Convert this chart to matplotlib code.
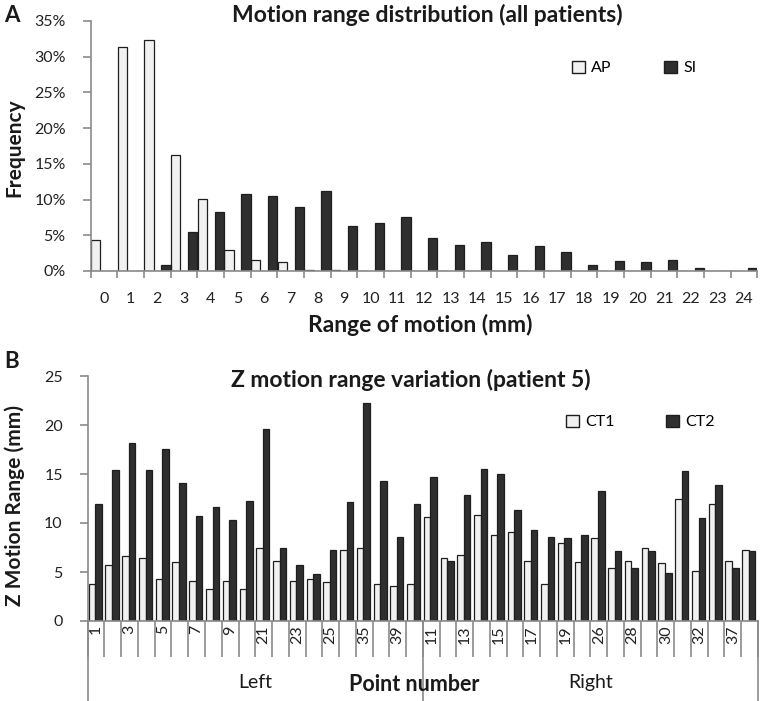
import numpy as np
import matplotlib
matplotlib.use('Agg')
import matplotlib.pyplot as plt
from matplotlib.patches import Patch

plt.rcParams['font.family'] = ['Lato', 'DejaVu Sans']

# panel A: motion range histogram (% of all patients)
motion_mm = list(range(25))
ap_pct = [4.3, 31.4, 32.4, 16.3, 10.1, 3.0, 1.5, 1.3, 0.2, 0.2, 0, 0, 0,
          0, 0, 0, 0, 0, 0, 0, 0, 0, 0, 0, 0]
si_pct = [0, 0, 0.9, 5.4, 8.2, 10.8, 10.5, 8.9, 11.2, 6.3, 6.7, 7.6, 4.6,
          3.7, 4.0, 2.2, 3.5, 2.7, 0.9, 1.4, 1.2, 1.6, 0.4, 0, 0.4]

# panel B: Z motion range per point, patient 5 (only every other label is printed)
left_labels = ['1', '', '3', '', '5', '', '7', '', '9', '', '21', '', '23', '',
               '25', '', '35', '', '39', '']
right_labels = ['11', '', '13', '', '15', '', '17', '', '19', '', '26', '', '28', '',
                '30', '', '32', '', '37', '']
ct1 = [3.8, 5.7, 6.6, 6.4, 4.3, 6.0, 4.1, 3.3, 4.1, 3.3,
       7.5, 6.1, 4.1, 4.3, 4.0, 7.2, 7.5, 3.8, 3.6, 3.8,
       10.6, 6.4, 6.7, 10.8, 8.8, 9.1, 6.1, 3.8, 8.0, 6.0,
       8.5, 5.4, 6.1, 7.4, 5.9, 12.5, 5.1, 11.9, 6.1, 7.2]
ct2 = [11.9, 15.4, 18.2, 15.4, 17.6, 14.1, 10.7, 11.6, 10.3, 12.2,
       19.6, 7.4, 5.7, 4.8, 7.2, 12.1, 22.2, 14.3, 8.6, 11.9,
       14.7, 6.1, 12.9, 15.5, 15.0, 11.3, 9.3, 8.6, 8.5, 8.8,
       13.3, 7.1, 5.4, 7.1, 4.9, 15.3, 10.5, 13.9, 5.4, 7.1]
groups = ['Left', 'Right']

light = '#f1f1f1'
dark = '#2f2f2f'
edge = '#1e1e1e'
grey = '#8a8a8a'
ink = '#1a1a1a'
W, H = 765, 701
tick_fs = 11.5
title_fs = 16.5
label_fs = 15

fig = plt.figure(figsize=(W / 100, H / 100), dpi=100)


def frac(x0, y0, x1, y1):
    return [x0 / W, 1 - y1 / H, (x1 - x0) / W, (y1 - y0) / H]


def style_axes(ax):
    for s in ['top', 'right']:
        ax.spines[s].set_visible(False)
    for s in ['left', 'bottom']:
        ax.spines[s].set_color(grey)
        ax.spines[s].set_linewidth(1.2)
    ax.tick_params(axis='y', length=6, width=1.2, color=grey, pad=12,
                   labelsize=tick_fs, labelcolor='#222222')


# ---- A ----
ax1 = fig.add_axes(frac(90.7, 21, 757.4, 271))
x = np.array(motion_mm)
ax1.bar(x + 0.01, ap_pct, width=0.35, align='edge', color=light, edgecolor=edge, linewidth=0.9)
ax1.bar(x + 0.65, si_pct, width=0.35, align='edge', color=dark, edgecolor=edge, linewidth=0.9)
ax1.set_xlim(0, 25)
ax1.set_ylim(0, 35)
ax1.set_yticks(range(0, 36, 5))
ax1.set_yticklabels(['%d%%' % v for v in range(0, 36, 5)])
style_axes(ax1)
ax1.set_xticks(range(26))
ax1.set_xticklabels([])
ax1.tick_params(axis='x', which='major', length=5, width=1.2, color=grey)
ax1.set_xticks(x + 0.5, minor=True)
ax1.set_xticklabels([str(v) for v in motion_mm], minor=True)
ax1.tick_params(axis='x', which='minor', length=0, pad=15, labelsize=tick_fs, labelcolor='#222222')

fig.legend([Patch(facecolor=light, edgecolor=edge), Patch(facecolor=dark, edgecolor=edge)],
           ['AP', 'SI'], loc='center left', bbox_to_anchor=(572 / W, 1 - 68 / H), ncol=2,
           frameon=False, borderpad=0, borderaxespad=0, handlelength=0.8, handleheight=0.8,
           handletextpad=0.4, columnspacing=3.3, fontsize=tick_fs)

fig.text(427 / W, 1 - 15 / H, 'Motion range distribution (all patients)', ha='center',
         va='center', fontsize=title_fs, fontweight='bold', color=ink)
fig.text(420 / W, 1 - 325 / H, 'Range of motion (mm)', ha='center', va='center',
         fontsize=title_fs, fontweight='bold', color=ink)
fig.text(14 / W, 1 - 148 / H, 'Frequency', rotation=90, ha='center', va='center',
         fontsize=label_fs, fontweight='bold', color=ink)
fig.text(12 / W, 1 - 15 / H, 'A', ha='center', va='center', fontsize=16,
         fontweight='bold', color=ink)

# ---- B ----
ax2 = fig.add_axes(frac(87.7, 376, 758, 621))
n = len(ct1)
xb = np.arange(n)
ax2.bar(xb + 0.06, ct1, width=0.39, align='edge', color=light, edgecolor=edge, linewidth=0.9)
ax2.bar(xb + 0.45, ct2, width=0.39, align='edge', color=dark, edgecolor=edge, linewidth=0.9)
ax2.set_xlim(0, n)
ax2.set_ylim(0, 25)
ax2.set_yticks(range(0, 26, 5))
style_axes(ax2)
ax2.set_xticks(range(n + 1))
ax2.set_xticklabels([])
ax2.tick_params(axis='x', which='major', length=26, width=1.2, color=grey)
ax2.set_xticks(xb + 0.5, minor=True)
ax2.set_xticklabels(left_labels + right_labels, minor=True, rotation=90)
ax2.tick_params(axis='x', which='minor', length=0, pad=3, labelsize=tick_fs, labelcolor='#222222')

# group separators and group names
half = len(left_labels)
for gx in [0, half, n]:
    ax2.plot([gx, gx], [0, -0.33], transform=ax2.get_xaxis_transform(), color=grey,
             linewidth=1.2, clip_on=False)
for i, g in enumerate(groups):
    ax2.text(half * i + half / 2, -0.25, g, transform=ax2.get_xaxis_transform(),
             ha='center', va='center', fontsize=14, color=ink)
ax2.text(19.5, -0.258, 'Point number', transform=ax2.get_xaxis_transform(),
         ha='center', va='center', fontsize=15.5, fontweight='bold', color=ink)

fig.legend([Patch(facecolor=light, edgecolor=edge), Patch(facecolor=dark, edgecolor=edge)],
           ['CT1', 'CT2'], loc='center left', bbox_to_anchor=(566 / W, 1 - 422 / H), ncol=2,
           frameon=False, borderpad=0, borderaxespad=0, handlelength=0.8, handleheight=0.8,
           handletextpad=0.4, columnspacing=3.2, fontsize=tick_fs)

fig.text(411 / W, 1 - 380 / H, 'Z motion range variation (patient 5)', ha='center',
         va='center', fontsize=title_fs, fontweight='bold', color=ink)
fig.text(15 / W, 1 - 505 / H, 'Z Motion Range (mm)', rotation=90, ha='center',
         va='center', fontsize=label_fs, fontweight='bold', color=ink)
fig.text(12 / W, 1 - 361 / H, 'B', ha='center', va='center', fontsize=16,
         fontweight='bold', color=ink)

fig.savefig('out.png', dpi=100)
